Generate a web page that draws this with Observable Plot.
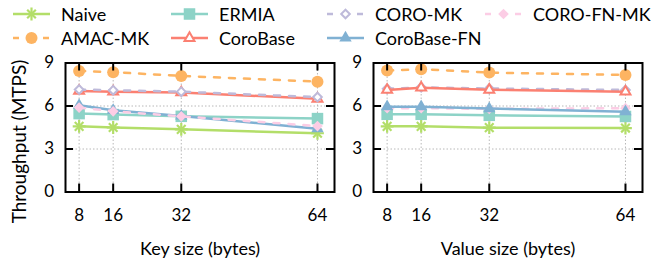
<!DOCTYPE html>
<html><head><meta charset="utf-8">
<script src="https://cdn.jsdelivr.net/npm/d3@7"></script>
<script src="https://cdn.jsdelivr.net/npm/@observablehq/plot@0.6"></script>
<style>
body{margin:0;background:#fff;font-family:Lato,sans-serif;}
#wrap{position:relative;width:666px;height:259px;overflow:hidden;background:#fff;}
#panels{position:absolute;left:0;top:0;display:flex;}
#legend{position:absolute;left:0;top:0;width:666px;height:50px;z-index:2;}
.lg{position:absolute;display:flex;align-items:center;height:22px;font-size:18px;color:#000;white-space:nowrap;}
.lg svg{margin-right:11px;}
</style></head><body>
<div id="wrap"><div id="panels"><div id="p1"></div><div id="p2"></div></div><div id="legend"></div></div>
<script>
const sizes = [8, 16, 32, 64];
const yTicks = [0, 3, 6, 9];
const seriesNames = ["Naive", "ERMIA", "CORO-MK", "CORO-FN-MK", "AMAC-MK", "CoroBase", "CoroBase-FN"];
const seriesColors = ["#b3de69", "#8dd3c7", "#bebada", "#fccde5", "#fdb462", "#fb8072", "#80b1d3"];
const seriesDashed = [false, false, true, true, true, false, false];
const seriesSymbol = ["asterisk", "square", "diamond2", "diamond2", "circle", "triangle", "triangle"];
const seriesOpen = [false, false, true, false, false, true, false];

// Key size panel (MTPS)
const keyNaive      = [4.58, 4.50, 4.37, 4.10];
const keyERMIA      = [5.47, 5.40, 5.28, 5.12];
const keyCoroMK     = [7.15, 7.10, 7.00, 6.62];
const keyCoroFNMK   = [5.89, 5.63, 5.28, 4.60];
const keyAMAC       = [8.45, 8.36, 8.10, 7.70];
const keyCoroBase   = [7.05, 7.00, 6.95, 6.50];
const keyCoroBaseFN = [6.05, 5.70, 5.30, 4.42];
// Value size panel (MTPS)
const valNaive      = [4.58, 4.58, 4.49, 4.46];
const valERMIA      = [5.42, 5.42, 5.35, 5.27];
const valCoroMK     = [7.20, 7.30, 7.22, 7.12];
const valCoroFNMK   = [5.85, 5.85, 5.80, 5.85];
const valAMAC       = [8.47, 8.57, 8.33, 8.17];
const valCoroBase   = [7.12, 7.28, 7.13, 7.00];
const valCoroBaseFN = [5.95, 5.95, 5.82, 5.60];

const keyVals = [keyNaive, keyERMIA, keyCoroMK, keyCoroFNMK, keyAMAC, keyCoroBase, keyCoroBaseFN];
const valVals = [valNaive, valERMIA, valCoroMK, valCoroFNMK, valAMAC, valCoroBase, valCoroBaseFN];

const DASH = "6,9";
const symR = {asterisk: 4, square: 6.5, diamond2: 4.8, circle: 6, triangle: 4.6};

function seriesMarks(rows, i) {
  const c = seriesColors[i], sym = seriesSymbol[i];
  const m = [Plot.line(rows, {x: "size", y: "value", stroke: c, strokeWidth: 2.5,
    strokeDasharray: seriesDashed[i] ? DASH : null})];
  if (sym === "asterisk") {
    m.push(Plot.dot(rows, {x: "size", y: "value", symbol: "plus", r: 4.2, stroke: c, strokeWidth: 2.2}));
    m.push(Plot.dot(rows, {x: "size", y: "value", symbol: "times", r: 4, stroke: c, strokeWidth: 2.2}));
  } else if (seriesOpen[i]) {
    m.push(Plot.dot(rows, {x: "size", y: "value", symbol: sym, r: symR[sym] - 0.9, fill: "white", stroke: c, strokeWidth: 2}));
  } else {
    m.push(Plot.dot(rows, {x: "size", y: "value", symbol: sym, r: symR[sym], fill: c, stroke: "none"}));
  }
  return m;
}

function panel(el, opts) {
  const {width, mL, mR, xLabel, yLabel, vals, order} = opts;
  const height = 259, mT = 62.5, mB = 67.5;
  const fw = width - mL - mR, fh = height - mT - mB;
  const marks = [
    Plot.gridX(sizes, {stroke: "#b8b8b8", strokeOpacity: 1, strokeWidth: 1, strokeDasharray: "1.5,2"}),
    Plot.gridY(yTicks.slice(1, -1), {stroke: "#b8b8b8", strokeOpacity: 1, strokeWidth: 1, strokeDasharray: "1.5,2"})
  ];
  for (const i of order) {
    const rows = sizes.map((s, j) => ({series: seriesNames[i], size: s, value: vals[i][j]}));
    marks.push(...seriesMarks(rows, i));
  }
  marks.push(
    Plot.tickY(yTicks, {y: d => d, insetRight: fw - 8, stroke: "black", strokeWidth: 2}),
    Plot.tickY(yTicks, {y: d => d, insetLeft: fw - 8, stroke: "black", strokeWidth: 2}),
    Plot.tickX(sizes, {x: d => d, insetTop: fh - 8, stroke: "black", strokeWidth: 2}),
    Plot.tickX(sizes, {x: d => d, insetBottom: fh - 8, stroke: "black", strokeWidth: 2}),
    Plot.frame({stroke: "black", strokeWidth: 2}),
    Plot.axisX(sizes, {tickSize: 0, tickPadding: 16.5, fontSize: 17, label: null}),
    Plot.axisY(yTicks, {tickSize: 0, tickPadding: 11.5, fontSize: 17, label: null}),
    Plot.text([xLabel], {frameAnchor: "bottom", dy: 62.5, lineAnchor: "bottom", fontSize: 18, fill: "black"})
  );
  if (yLabel) marks.push(Plot.text([yLabel], {frameAnchor: "left", dx: -53, dy: 14, rotate: -90, textAnchor: "middle", lineAnchor: "top", fontSize: 19, fill: "black"}));
  const chart = Plot.plot({
    width, height, marginLeft: mL, marginRight: mR, marginTop: mT, marginBottom: mB,
    style: {fontFamily: "Lato, sans-serif", color: "black", background: "transparent", overflow: "visible"},
    x: {type: "linear", domain: [4.8, 68]},
    y: {domain: [0, 9]},
    marks
  });
  document.getElementById(el).appendChild(chart);
}

panel("p1", {width: 340, mL: 65, mR: 6, xLabel: "Key size (bytes)", yLabel: "Throughput (MTPS)", vals: keyVals, order: [0, 1, 4, 5, 6, 2, 3]});
panel("p2", {width: 326, mL: 33, mR: 24, xLabel: "Value size (bytes)", yLabel: null, vals: valVals, order: [0, 1, 2, 3, 4, 5, 6]});

// Legend
const legendCols = [13, 171, 327, 485];
const legend = d3.select("#legend");
seriesNames.forEach((name, i) => {
  const col = i % 4, row = Math.floor(i / 4);
  const item = legend.append("div").attr("class", "lg")
    .style("left", legendCols[col] + "px").style("top", (row === 0 ? 3 : 27) + "px");
  const svg = item.append("svg").attr("width", 37).attr("height", 16);
  const c = seriesColors[i], sym = seriesSymbol[i];
  svg.append("line").attr("x1", 0).attr("x2", 37).attr("y1", 8).attr("y2", 8)
    .attr("stroke", c).attr("stroke-width", 2.5)
    .attr("stroke-dasharray", seriesDashed[i] ? DASH : null);
  const g = svg.append("g").attr("transform", "translate(18.5,8)");
  const typeOf = {square: d3.symbolSquare, diamond2: d3.symbolDiamond2, circle: d3.symbolCircle, triangle: d3.symbolTriangle};
  if (sym === "asterisk") {
    g.append("path").attr("d", d3.symbol(d3.symbolPlus, Math.PI * 4.2 * 4.2)()).attr("stroke", c).attr("stroke-width", 2.2).attr("fill", "none");
    g.append("path").attr("d", d3.symbol(d3.symbolTimes, Math.PI * 16)()).attr("stroke", c).attr("stroke-width", 2.2).attr("fill", "none");
  } else if (seriesOpen[i]) {
    const r = symR[sym] - 0.9;
    g.append("path").attr("d", d3.symbol(typeOf[sym], Math.PI * r * r)()).attr("fill", "white").attr("stroke", c).attr("stroke-width", 2);
  } else {
    const r = symR[sym];
    g.append("path").attr("d", d3.symbol(typeOf[sym], Math.PI * r * r)()).attr("fill", c);
  }
  item.append("span").text(name);
});
</script>
</body></html>
